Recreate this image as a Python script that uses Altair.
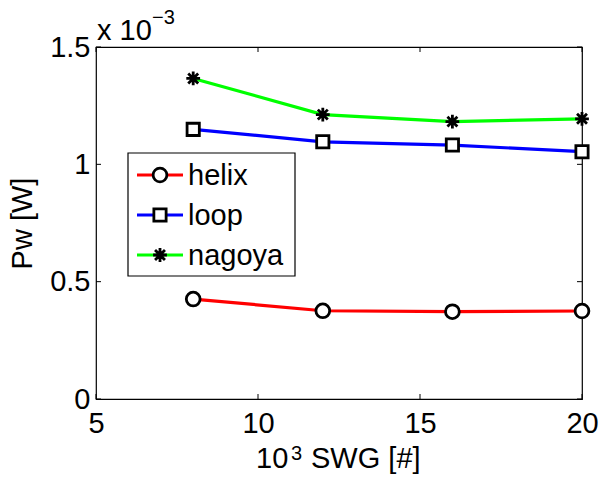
import altair as alt
import pandas as pd

# Sweep of SWG count (x 10^3) and resulting power, in units of 1e-3 W
swg = [8, 12, 16, 20]
pw_helix = [0.426, 0.376, 0.372, 0.375]
pw_loop = [1.149, 1.096, 1.082, 1.054]
pw_nagoya = [1.366, 1.212, 1.182, 1.194]

series = ["helix", "loop", "nagoya"]
colors = ["#ff0000", "#0000ff", "#00ff00"]
x_ticks = [5, 10, 15, 20]
y_ticks = [0, 0.5, 1, 1.5]

ASTERISK = "M-1,0L1,0M0,-1L0,1M-0.72,-0.72L0.72,0.72M-0.72,0.72L0.72,-0.72"
shapes = ["circle", "square", ASTERISK]
sizes = [190, 150, 190]

W, H = 486, 352
LEFT, TOP = 96, 47
FONT = "Liberation Sans"
FS = 29
MSW = 2.8  # marker outline width

rows = []
for name, vals in zip(series, [pw_helix, pw_loop, pw_nagoya]):
    for xv, yv in zip(swg, vals):
        rows.append({"series": name, "swg": xv, "pw": yv})
df = pd.DataFrame(rows)

x_enc = alt.X(
    "swg:Q",
    scale=alt.Scale(domain=[5, 20], nice=False, zero=False),
    axis=alt.Axis(values=x_ticks, tickSize=0, domain=False, grid=False,
                  labelFont=FONT, labelFontSize=FS, labelColor="black",
                  labelPadding=10, labelFlush=False),
    title=None,
)
y_enc = alt.Y(
    "pw:Q",
    scale=alt.Scale(domain=[0, 1.5], nice=False),
    axis=alt.Axis(values=y_ticks, format="~g", tickSize=0, domain=False, grid=False,
                  labelFont=FONT, labelFontSize=FS, labelColor="black",
                  labelPadding=6, titleFont=FONT, titleFontSize=FS,
                  titleFontWeight="normal", titleColor="black", titlePadding=12,
                  labelFlush=False),
    title="Pw [W]",
)

lines = alt.Chart(df).mark_line(strokeWidth=3.2).encode(
    x=x_enc, y=y_enc,
    color=alt.Color("series:N", scale=alt.Scale(domain=series, range=colors), legend=None),
)

layers = [lines]
for name, shp, sz in zip(series, shapes, sizes):
    layers.append(
        alt.Chart(df).transform_filter(alt.datum.series == name)
        .mark_point(shape=shp, size=sz, filled=True, fill="white", stroke="black",
                    strokeWidth=MSW, opacity=1)
        .encode(x=x_enc, y=y_enc)
    )

# inward tick marks on all four sides of the box
xt = pd.DataFrame({"swg": x_ticks})
yt = pd.DataFrame({"pw": y_ticks})
tk = dict(color="black", strokeWidth=1)
layers += [
    alt.Chart(xt).mark_rule(**tk).encode(x=x_enc, y=alt.value(H), y2=alt.value(H - 5)),
    alt.Chart(xt).mark_rule(**tk).encode(x=x_enc, y=alt.value(0), y2=alt.value(5)),
    alt.Chart(yt).mark_rule(**tk).encode(y=y_enc, x=alt.value(0), x2=alt.value(5)),
    alt.Chart(yt).mark_rule(**tk).encode(y=y_enc, x=alt.value(W - 5), x2=alt.value(W)),
]

one = pd.DataFrame({"k": [0]})


def label(text, x, y, size=FS):
    return alt.Chart(one).mark_text(text=text, font=FONT, fontSize=size, align="left",
                                    baseline="alphabetic", color="black") \
        .encode(x=alt.value(x - LEFT), y=alt.value(y - TOP))


# axis multiplier and x-axis title with superscript
layers += [
    label("x 10", 97, 40),
    label("−3", 152, 24, 20),
    label("10", 256, 468),
    label("3", 291, 460, 20),
    label("SWG [#]", 311, 468),
]

# legend box
layers.append(
    alt.Chart(one).mark_rect(fill="white", stroke="black", strokeWidth=1.2)
    .encode(x=alt.value(128 - LEFT), x2=alt.value(295 - LEFT),
            y=alt.value(153 - TOP), y2=alt.value(276 - TOP))
)
for i, (name, col, shp, sz) in enumerate(zip(series, colors, shapes, sizes)):
    yc = 175 + 40 * i - TOP
    row = pd.DataFrame({"series": [name]})
    layers += [
        alt.Chart(row).mark_rule(color=col, strokeWidth=3.2)
        .encode(x=alt.value(137 - LEFT), x2=alt.value(183 - LEFT), y=alt.value(yc)),
        alt.Chart(row).mark_point(shape=shp, size=sz, filled=True, fill="white",
                                  stroke="black", strokeWidth=MSW, opacity=1)
        .encode(x=alt.value(160 - LEFT), y=alt.value(yc)),
        alt.Chart(row).mark_text(font=FONT, fontSize=FS, align="left", baseline="middle",
                                 color="black")
        .encode(x=alt.value(188 - LEFT), y=alt.value(yc + 1), text="series:N"),
    ]

chart = alt.layer(*layers).properties(
    width=W, height=H,
    autosize=alt.AutoSizeParams(type="none"),
    padding={"left": LEFT, "top": TOP, "right": 601 - LEFT - W, "bottom": 478 - TOP - H},
    background="white",
).configure_view(stroke="black", strokeWidth=1.2)

chart.save("out.html", embed_options={"renderer": "svg", "actions": False})
